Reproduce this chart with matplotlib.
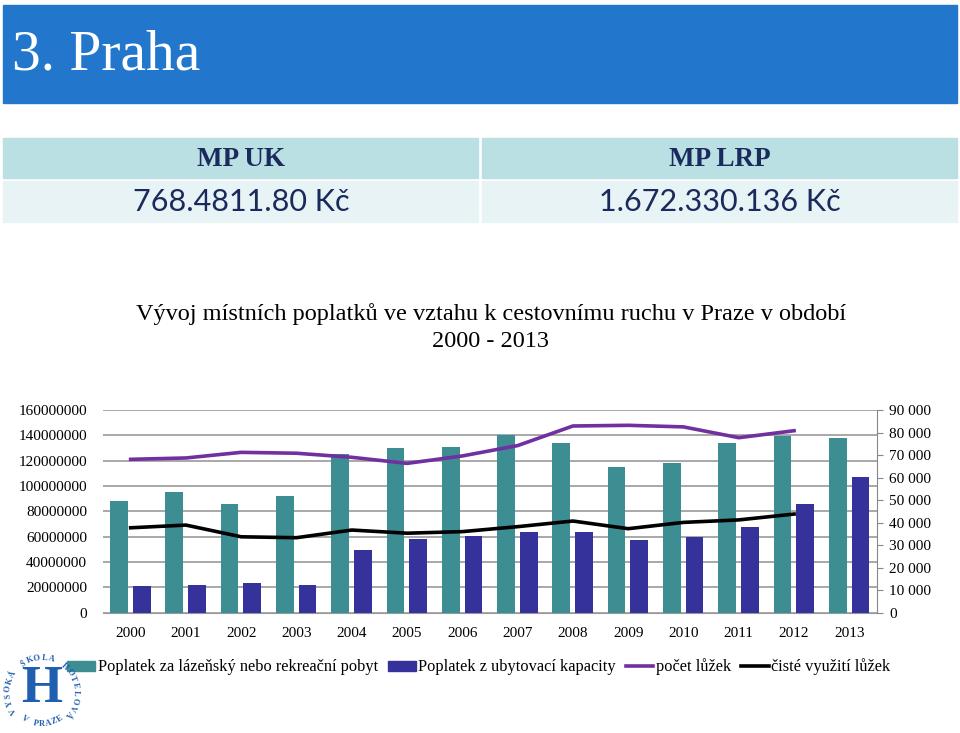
import math
import matplotlib
matplotlib.use("Agg")
import matplotlib.pyplot as plt
from matplotlib.patches import Rectangle
from matplotlib.lines import Line2D
from matplotlib.ticker import FuncFormatter, MultipleLocator

years = ['2000', '2001', '2002', '2003', '2004', '2005', '2006',
         '2007', '2008', '2009', '2010', '2011', '2012', '2013']
# Kč
lazensky = [88.2e6, 95.0e6, 85.5e6, 92.3e6, 125.3e6, 129.7e6, 130.8e6,
            140.3e6, 134.2e6, 114.8e6, 118.4e6, 134.2e6, 139.5e6, 138.1e6]
ubytovaci = [21.3e6, 22.1e6, 23.4e6, 22.1e6, 49.7e6, 58.4e6, 60.8e6,
             63.9e6, 63.7e6, 57.1e6, 59.5e6, 67.6e6, 85.5e6, 107.1e6]
# right axis, no value for 2013
pocet_luzek = [68100, 68700, 71200, 70800, 69000, 66300, 69600,
               74200, 82900, 83200, 82500, 77700, 80800]
ciste_vyuziti = [37700, 38900, 33700, 33300, 36700, 35300, 36000,
                 38200, 40700, 37300, 40100, 41200, 43800]

W, H = 960, 733
fig = plt.figure(figsize=(9.6, 7.33), dpi=100)
serif = 'Liberation Serif'
navy_txt = '#1b2a5c'

def fx(x):
    return x / W

def fy(y):
    return 1 - y / H

# header box
fig.add_artist(Rectangle((fx(3), fy(103)), fx(954), 98 / H, color='#2277cc',
                         transform=fig.transFigure))
fig.text(fx(12), fy(56), '3. Praha', color='white', fontsize=41.5, family=serif,
         va='center', ha='left')

# table with the two totals
for x0, head, val in [(3, 'MP UK', '768.4811.80 Kč'), (482, 'MP LRP', '1.672.330.136 Kč')]:
    fig.add_artist(Rectangle((fx(x0), fy(178)), fx(475), 40 / H, color='#bbe0e4',
                             transform=fig.transFigure))
    fig.add_artist(Rectangle((fx(x0), fy(222)), fx(475), 41 / H, color='#e7f3f5',
                             transform=fig.transFigure))
    cx = fx(x0 + 238)
    fig.text(cx, fy(159), head, color=navy_txt, fontsize=19.5, family=serif,
             weight='bold', ha='center', va='center')
    fig.text(cx, fy(202), val, color=navy_txt, fontsize=22, family='Lato',
             ha='center', va='center')

# chart title
fig.text(fx(491), fy(314), 'Vývoj místních poplatků ve vztahu k cestovnímu ruchu v Praze v období',
         fontsize=17.5, family=serif, ha='center', va='center')
fig.text(fx(491), fy(341), '2000 - 2013', fontsize=17.5, family=serif, ha='center', va='center')

ax = fig.add_axes([fx(103), fy(612.7), fx(774), 202.7 / H])
ax2 = ax.twinx()

x = list(range(len(years)))
teal = '#3d8e93'
navy = '#35339b'
ax.bar([i - 0.21 for i in x], lazensky, width=0.32, color=teal, zorder=3)
ax.bar([i + 0.2 for i in x], ubytovaci, width=0.32, color=navy, zorder=3)
ax.set_xlim(-0.5, len(years) - 0.5)
ax.set_ylim(0, 160e6)
ax.yaxis.set_major_locator(MultipleLocator(20e6))
ax.yaxis.set_major_formatter(FuncFormatter(lambda v, p: '%d' % v))
ax.grid(axis='y', color='#999999', lw=1.2, zorder=0)
ax.set_axisbelow(True)
ax.set_xticks(x)
ax.set_xticklabels(years)
ax.tick_params(axis='x', length=0, pad=10, labelsize=11)
ax.tick_params(axis='y', length=0, pad=11.5, labelsize=11)

ax2.plot(x[:len(pocet_luzek)], pocet_luzek, color='#7030a0', lw=2.6, zorder=4)
ax2.plot(x[:len(ciste_vyuziti)], ciste_vyuziti, color='black', lw=2.6, zorder=4)
ax2.set_ylim(0, 90000)
ax2.yaxis.set_major_locator(MultipleLocator(10000))
ax2.yaxis.set_major_formatter(FuncFormatter(lambda v, p: '{:,}'.format(int(v)).replace(',', ' ')))
ax2.tick_params(axis='y', length=4.3, color='#888888', pad=4.3, labelsize=11)

for a in (ax, ax2):
    for s in ('top', 'left'):
        a.spines[s].set_visible(False)
    a.spines['bottom'].set_color('#999999')
    a.spines['right'].set_color('#888888')
ax.spines['right'].set_visible(False)
ax2.spines['bottom'].set_visible(False)

for a in (ax, ax2):
    for lab in a.get_xticklabels() + a.get_yticklabels():
        lab.set_family(serif)

# legend
handles = [Rectangle((0, 0), 1, 1, color=teal), Rectangle((0, 0), 1, 1, color=navy),
           Line2D([], [], color='#7030a0', lw=2.6), Line2D([], [], color='black', lw=2.6)]
labels = ['Poplatek za lázeňský nebo rekreační pobyt', 'Poplatek z ubytovací kapacity',
          'počet lůžek', 'čisté využití lůžek']
leg = fig.legend(handles, labels, loc='center', bbox_to_anchor=(fx(479), fy(667)), ncol=4,
                 frameon=False, prop={'family': serif, 'size': 11.8}, handlelength=1.7,
                 handletextpad=0.15, columnspacing=0.6, handleheight=0.55, borderpad=0)
leg.set_zorder(2)

# school logo (simplified): big H with circular text, drawn over the legend
logo = '#1f5fb0'
lcx, lcy, r = 42, 733 - 692, 34
fig.text(fx(lcx), fy(689), 'H', color=logo, fontsize=38, family=serif,
         weight='bold', ha='center', va='center', zorder=10)
top_txt = 'VYSOKÁ ŠKOLA HOTELOVÁ'
a0, a1 = 212, -40
for k, ch in enumerate(top_txt):
    ang = a0 + (a1 - a0) * k / (len(top_txt) - 1)
    px = lcx + r * math.cos(math.radians(ang))
    py = lcy + r * math.sin(math.radians(ang))
    fig.text(px / W, py / H, ch, color=logo, fontsize=6, family=serif, weight='bold',
             rotation=ang - 90, ha='center', va='center', rotation_mode='anchor', zorder=10)
bot_txt = 'V PRAZE'
b0, b1 = 236, 304
for k, ch in enumerate(bot_txt):
    ang = b0 + (b1 - b0) * k / (len(bot_txt) - 1)
    px = lcx + (r - 2) * math.cos(math.radians(ang))
    py = lcy + (r - 2) * math.sin(math.radians(ang))
    fig.text(px / W, py / H, ch, color=logo, fontsize=6, family=serif, weight='bold',
             rotation=ang + 90, ha='center', va='center', rotation_mode='anchor', zorder=10)

fig.savefig('out.png', dpi=100)
